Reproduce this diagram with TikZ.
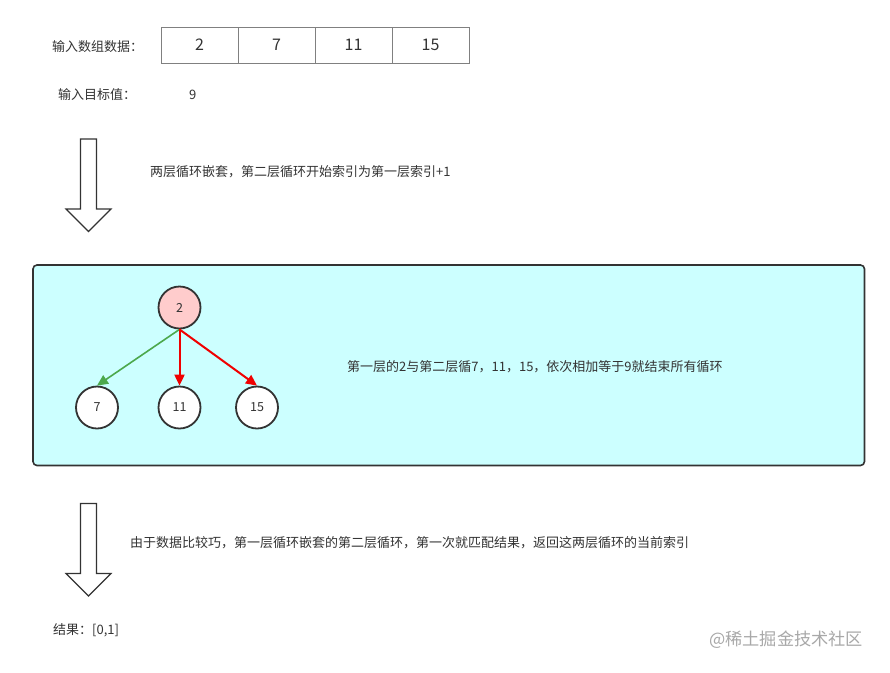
\documentclass[tikz,border=0pt]{standalone}
\usepackage{fontspec}
\setmainfont{Noto Sans CJK SC}
\usetikzlibrary{arrows.meta}
\definecolor{txt}{HTML}{333333}
\definecolor{boxfill}{HTML}{CCFFFF}
\definecolor{pinkfill}{HTML}{FFCCCC}
\definecolor{edgegreen}{HTML}{4CA84C}
\definecolor{edgered}{HTML}{F00000}
\definecolor{wm}{HTML}{A8A8A8}
\tikzset{
  lbl/.style={anchor=west, inner sep=0pt, text=txt, font=\fontsize{13}{15}\selectfont},
  cell/.style={draw=gray, line width=1pt, minimum width=77pt, minimum height=36pt, inner sep=0pt, text=txt, font=\fontsize{16}{18}\selectfont},
  hollowarrow/.style={draw=txt, line width=1.2pt, fill=white, line join=miter},
  circ/.style={circle, draw=txt, line width=1.8pt, minimum size=42pt, inner sep=0pt, fill=white, text=txt, font=\fontsize{12.5}{14}\selectfont},
  gedge/.style={draw=edgegreen, line width=1.6pt, -{Triangle[length=11pt,width=10pt]}},
  redge/.style={draw=edgered, line width=2pt, -{Triangle[length=11pt,width=10pt]}}
}
\begin{document}
\begin{tikzpicture}[x=1pt,y=-1pt]
\useasboundingbox (0,0) rectangle (890,672);
\fill[white] (0,0) rectangle (890,672);

% input array
\node[lbl] (inlabel) at (52,47) {输入数组数据：};
\node[cell] (c1) at (199.5,45) {2};
\node[cell] (c2) at (276.5,45) {7};
\node[cell] (c3) at (353.5,45) {11};
\node[cell] (c4) at (430.5,45) {15};

\node[lbl] (tlabel) at (58,95) {输入目标值：};
\node[lbl] (tval) at (189,95) {9};

% hollow arrow 1
\draw[hollowarrow] (80.5,139) -- (96.5,139) -- (96.5,209) -- (111,209) -- (88.5,231.5) -- (66,209) -- (80.5,209) -- cycle;
\node[lbl] (step1) at (150,172) {两层循环嵌套，第二层循环开始索引为第一层索引+1};

% main box
\draw[draw=txt, line width=1.6pt, fill=boxfill, rounded corners=4pt] (33,265) rectangle (864.5,465.5);

\node[circ, fill=pinkfill] (n2) at (179.5,307.5) {2};
\node[circ] (n7) at (97,407.5) {7};
\node[circ] (n11) at (179.5,407.5) {11};
\node[circ] (n15) at (257,407.5) {15};

\draw[gedge] (n2.south) -- (n7.north);
\draw[redge] (n2.south) -- (n11.north);
\draw[redge] (n2.south) -- (n15.north);

\node[lbl] (desc) at (347,367) {第一层的2与第二层循7，11，15，依次相加等于9就结束所有循环};

% hollow arrow 2
\draw[hollowarrow] (80.5,503.5) -- (96.5,503.5) -- (96.5,573.5) -- (111,573.5) -- (88.5,596) -- (66,573.5) -- (80.5,573.5) -- cycle;
\node[lbl] (step2) at (130,543) {由于数据比较巧，第一层循环嵌套的第二层循环，第一次就匹配结果，返回这两层循环的当前索引};

\node[lbl] (result) at (53,630) {结果：[0,1]};

\node[anchor=west, inner sep=0pt, text=wm, font=\fontsize{17.2}{19}\selectfont] (watermark) at (709,640) {@稀土掘金技术社区};
\end{tikzpicture}
\end{document}
